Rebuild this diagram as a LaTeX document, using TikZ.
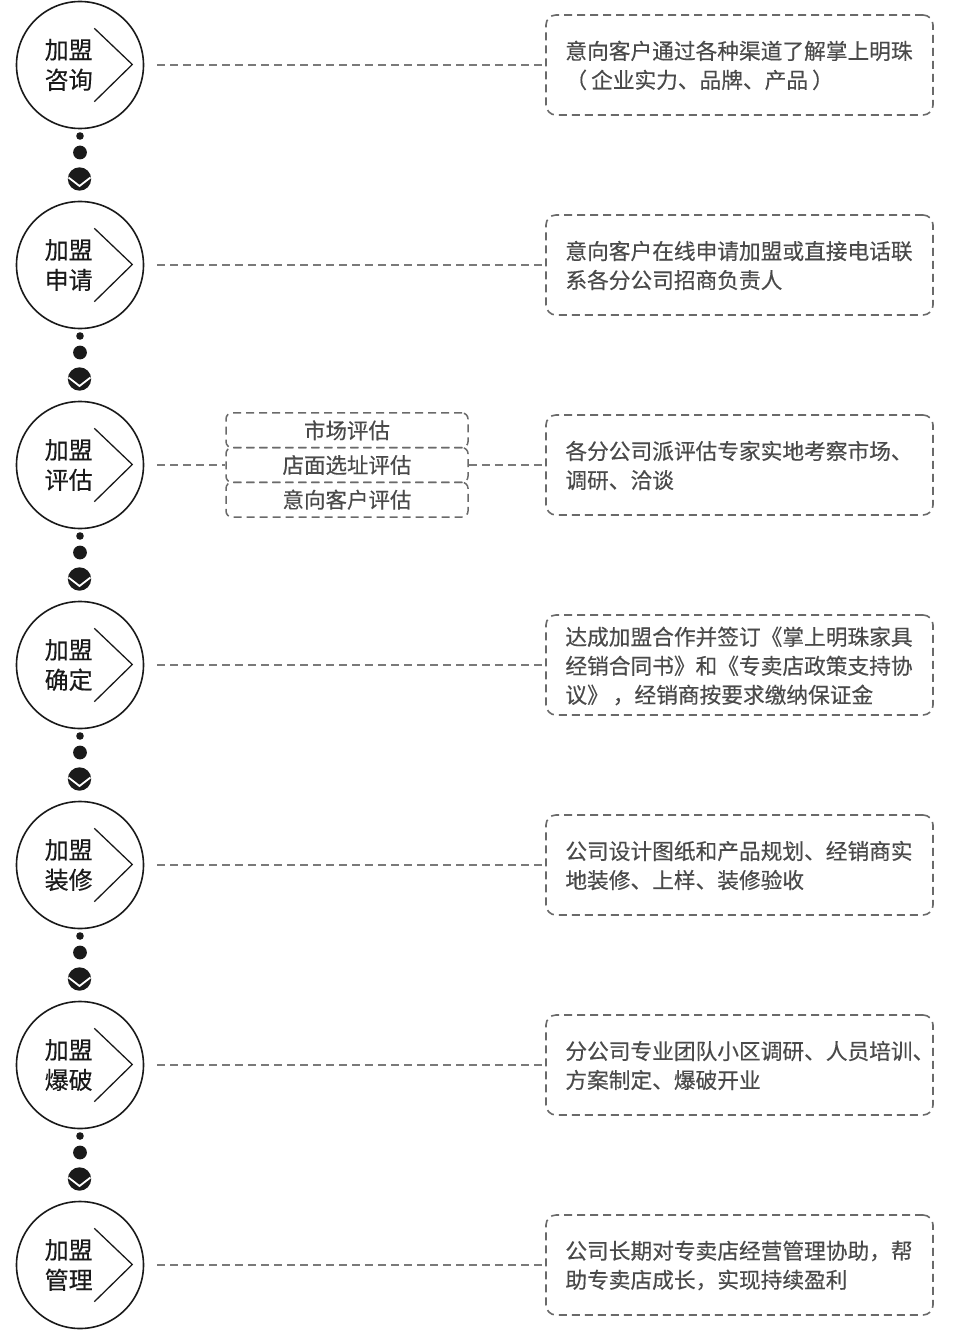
\documentclass[tikz,border=0pt]{standalone}
\usepackage{fontspec}
\newfontfamily\cjk[UprightFeatures={FakeBold=0.35}]{Noto Sans CJK SC}
\usetikzlibrary{calc}
\definecolor{boxgray}{HTML}{6A6A6A}
\definecolor{linegray}{HTML}{7A7A7A}
\definecolor{txtgray}{HTML}{4A4A4A}
\definecolor{ink}{HTML}{1A1A1A}
\begin{document}
\begin{tikzpicture}[x=1pt,y=-1pt,
  stage/.style={circle,draw=ink,line width=1.6pt,minimum size=127pt,inner sep=0pt},
  stagetext/.style={font=\cjk\fontsize{24}{30}\selectfont,align=center,inner sep=0pt,text=ink},
  chev/.style={draw=ink,line width=1.3pt},
  conn/.style={draw=linegray,line width=1.5pt,dash pattern=on 8pt off 5pt},
  infobox/.style={draw=boxgray,line width=1.6pt,dash pattern=on 8pt off 5pt,rounded corners=10pt,minimum width=387pt,minimum height=100pt,inner sep=0pt},
  infotext/.style={font=\cjk\fontsize{21.7}{29}\selectfont,align=left,inner sep=0pt,text=txtgray,anchor=west},
  subbox/.style={draw=boxgray,line width=1.5pt,dash pattern=on 8pt off 5pt,rounded corners=6pt,minimum width=242pt,minimum height=34.7pt,inner sep=0pt,font=\cjk\fontsize{21.5}{26}\selectfont,text=txtgray},
  smalldot/.style={circle,fill=ink,minimum size=7.6pt,inner sep=0pt},
  middot/.style={circle,fill=ink,minimum size=13.8pt,inner sep=0pt},
  chevdot/.style={circle,fill=ink,minimum size=23.4pt,inner sep=0pt},
  vmark/.style={draw=white,line width=1.8pt}
]
\useasboundingbox (0,0) rectangle (963,1332);

% stages
\foreach \i/\word in {1/咨询,2/申请,3/评估,4/确定,5/装修,6/爆破,7/管理}{
  \pgfmathsetmacro{\yy}{65+200*(\i-1)}
  \node[stage] (s\i) at (80,\yy) {};
  \node[stagetext] (st\i) at (68.7,\yy) {加盟\\\word};
  \draw[chev] ($(s\i.center)+(14.3,-36.7)$) -- ($(s\i.center)+(52.3,-0.5)$) -- ($(s\i.center)+(14.3,36.7)$);
}

% dots between stages
\foreach \i in {1,...,6}{
  \pgfmathsetmacro{\yy}{65+200*(\i-1)}
  \node[smalldot] (da\i) at (80,\yy+71) {};
  \node[middot] (db\i) at (80,\yy+87.5) {};
  \node[chevdot] (dc\i) at (79.5,\yy+114) {};
  \draw[vmark] ($(dc\i.center)+(-11,-1.5)$) -- ($(dc\i.center)+(0,7)$) -- ($(dc\i.center)+(11,-1.5)$);
}

% info boxes
\foreach \i in {1,...,7}{
  \pgfmathsetmacro{\yy}{65+200*(\i-1)}
  \node[infobox] (b\i) at (739.5,\yy) {};
}

\node[infotext] (t1) at ($(b1.west)+(20,0.5)$) {意向客户通过各种渠道了解掌上明珠\\（\hspace{4pt}企业实力、品牌、产品\hspace{4pt}）};
\node[infotext] (t2) at ($(b2.west)+(20,0.5)$) {意向客户在线申请加盟或直接电话联\\系各分公司招商负责人};
\node[infotext] (t3) at ($(b3.west)+(20,0.5)$) {各分公司派评估专家实地考察市场、\\调研、洽谈};
\node[infotext] (t4) at ($(b4.west)+(20,1)$) {达成加盟合作并签订《掌上明珠家具\\经销合同书》和《专卖店政策支持协\\议》\hspace{4pt}，经销商按要求缴纳保证金};
\node[infotext] (t5) at ($(b5.west)+(20,0.5)$) {公司设计图纸和产品规划、经销商实\\地装修、上样、装修验收};
\node[infotext] (t6) at ($(b6.west)+(20,0.5)$) {分公司专业团队小区调研、人员培训、\\方案制定、爆破开业};
\node[infotext] (t7) at ($(b7.west)+(20,0.5)$) {公司长期对专卖店经营管理协助，帮\\助专卖店成长，实现持续盈利};

% sub boxes for stage 3
\node[subbox] (m1) at (347,430.3) {市场评估};
\node[subbox] (m2) at (347,465) {店面选址评估};
\node[subbox] (m3) at (347,499.7) {意向客户评估};

% connectors
\foreach \i in {1,2,4,5,6,7}{
  \draw[conn,shorten <=13pt] (s\i) -- (b\i);
}
\draw[conn,shorten <=13pt] (s3) -- (m2);
\draw[conn] (m2) -- (b3);
\end{tikzpicture}
\end{document}
